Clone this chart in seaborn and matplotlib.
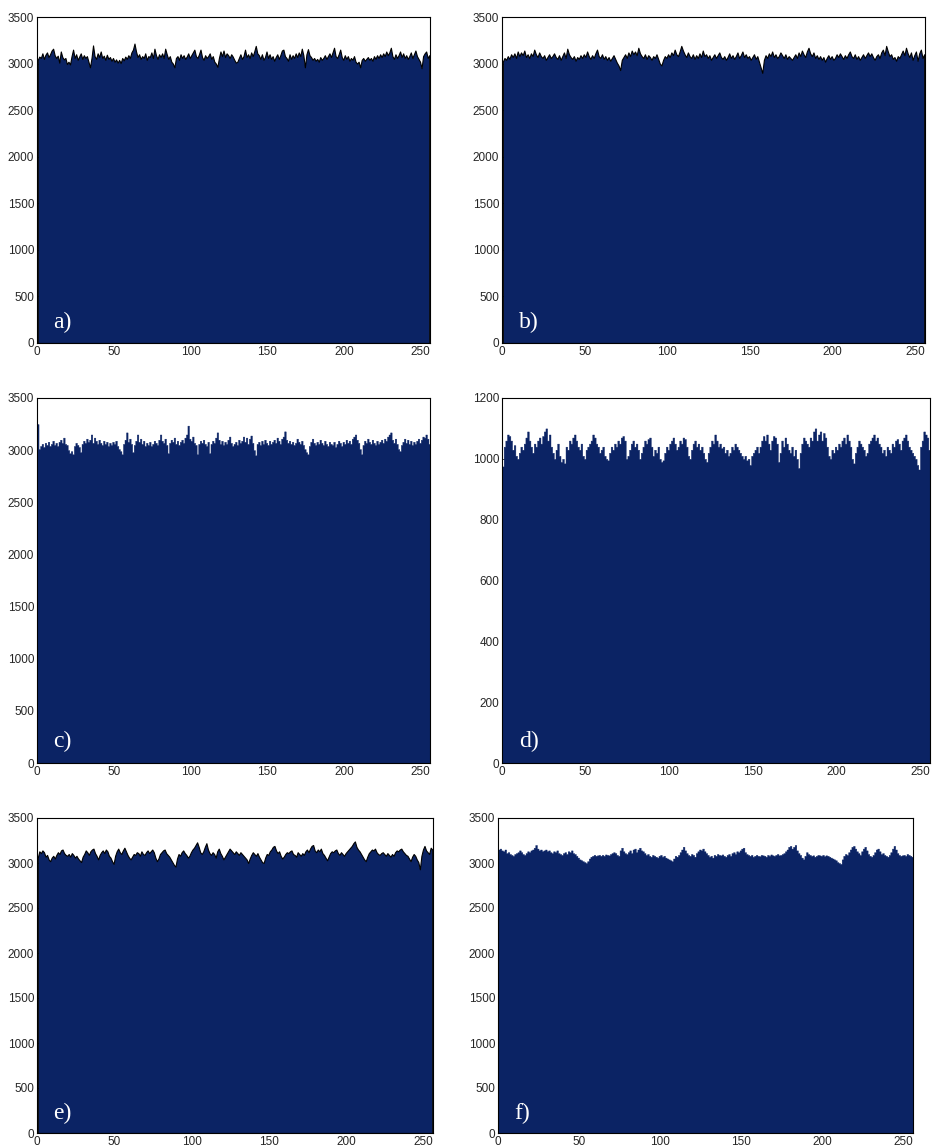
import numpy as np
import matplotlib
matplotlib.use("Agg")
import matplotlib.pyplot as plt
import seaborn as sns

# Grey-level histograms (256 bins) of six images
levels = np.arange(256)

hist_a = [
    3040, 3075, 3060, 3110, 3050, 3095, 3120, 3070, 3100, 3140, 3160, 3090, 3060, 3085, 3010, 3130,
    3070, 3045, 3060, 2995, 3020, 2990, 3080, 3150, 3060, 3100, 3040, 3075, 3110, 3050, 3090, 3060,
    3080, 3020, 2960, 3060, 3195, 3080, 3050, 3110, 3070, 3130, 3060, 3085, 3040, 3095, 3050, 3070,
    3030, 3060, 3020, 3045, 3010, 3040, 3005, 3060, 3035, 3075, 3050, 3090, 3060, 3120, 3150, 3215,
    3130, 3070, 3100, 3050, 3080, 3060, 3110, 3040, 3080, 3070, 3120, 3060, 3160, 3090, 3050, 3100,
    3070, 3110, 3060, 3160, 3100, 3050, 3080, 3020, 3000, 2960, 3060, 3080, 3040, 3100, 3060, 3090,
    3050, 3075, 3110, 3060, 3090, 3120, 3150, 3080, 3060, 3100, 3150, 3070, 3040, 3090, 3060, 3080,
    3110, 3050, 3080, 3020, 3000, 2965, 3060, 3130, 3080, 3140, 3070, 3110, 3090, 3060, 3100, 3075,
    3040, 3010, 3020, 3060, 3100, 3050, 3080, 3150, 3070, 3100, 3060, 3120, 3080, 3130, 3190, 3110,
    3090, 3050, 3100, 3040, 3070, 3130, 3060, 3100, 3050, 3080, 3030, 3070, 3100, 3050, 3090, 3140,
    3150, 3080, 3060, 3030, 3100, 3050, 3090, 3060, 3110, 3070, 3120, 3080, 3160, 3090, 2960, 3100,
    3155, 3090, 3070, 3040, 3060, 3030, 3050, 3020, 3070, 3040, 3060, 3090, 3050, 3080, 3110, 3070,
    3120, 3170, 3080, 3060, 3100, 3150, 3070, 3040, 3090, 3050, 3080, 3030, 3060, 3040, 3080, 3020,
    3000, 3020, 2960, 3040, 3060, 3030, 3050, 3070, 3040, 3060, 3030, 3080, 3050, 3090, 3060, 3100,
    3070, 3110, 3080, 3130, 3090, 3120, 3170, 3080, 3050, 3100, 3060, 3090, 3130, 3070, 3110, 3060,
    3090, 3050, 3080, 3120, 3060, 3100, 3140, 3080, 3050, 3020, 2950, 3080, 3110, 3130, 3060, 3090,
]

hist_b = [
    3020, 3060, 3040, 3080, 3050, 3100, 3070, 3110, 3060, 3130, 3080, 3120, 3090, 3140, 3070, 3100,
    3060, 3110, 3080, 3150, 3100, 3070, 3120, 3080, 3060, 3090, 3040, 3070, 3100, 3060, 3080, 3110,
    3070, 3050, 3090, 3040, 3080, 3120, 3060, 3160, 3100, 3070, 3050, 3080, 3030, 3070, 3050, 3090,
    3060, 3100, 3070, 3130, 3080, 3050, 3090, 3060, 3110, 3150, 3080, 3060, 3100, 3050, 3080, 3040,
    3070, 3030, 3060, 3090, 3050, 3010, 2980, 2930, 3040, 3070, 3100, 3060, 3120, 3080, 3140, 3100,
    3130, 3090, 3170, 3110, 3080, 3060, 3100, 3050, 3090, 3070, 3040, 3080, 3060, 3100, 3050, 3000,
    2980, 3040, 3080, 3060, 3100, 3070, 3120, 3090, 3150, 3100, 3080, 3130, 3190, 3140, 3100, 3070,
    3120, 3080, 3060, 3100, 3050, 3090, 3060, 3110, 3070, 3140, 3080, 3100, 3060, 3090, 3040, 3070,
    3100, 3060, 3090, 3120, 3070, 3050, 3080, 3040, 3070, 3110, 3060, 3090, 3050, 3080, 3120, 3060,
    3090, 3130, 3070, 3100, 3060, 3080, 3040, 3070, 3100, 3050, 3080, 3020, 2960, 2900, 3040, 3090,
    3060, 3110, 3080, 3130, 3070, 3100, 3060, 3080, 3120, 3090, 3060, 3100, 3050, 3080, 3060, 3040,
    3070, 3100, 3060, 3120, 3080, 3140, 3100, 3070, 3130, 3170, 3110, 3080, 3120, 3060, 3090, 3050,
    3080, 3040, 3070, 3020, 3060, 3090, 3050, 3080, 3040, 3060, 3100, 3070, 3110, 3080, 3050, 3090,
    3060, 3100, 3130, 3080, 3060, 3100, 3050, 3080, 3040, 3070, 3100, 3060, 3090, 3120, 3080, 3110,
    3070, 3040, 3080, 3100, 3060, 3120, 3150, 3090, 3190, 3130, 3080, 3100, 3050, 3070, 3030, 3080,
    3060, 3100, 3140, 3090, 3170, 3110, 3070, 3120, 3040, 3090, 3130, 3030, 3110, 3150, 3060, 3100,
]

hist_c = [
    3250, 3010, 3040, 3060, 3030, 3070, 3050, 3080, 3040, 3060, 3090, 3050, 3070, 3040, 3080, 3100,
    3070, 3120, 3060, 3050, 3000, 2970, 2990, 2960, 3040, 3070, 3050, 3030, 2980, 3060, 3090, 3070,
    3110, 3080, 3100, 3150, 3070, 3120, 3090, 3060, 3100, 3070, 3050, 3090, 3060, 3080, 3040, 3070,
    3050, 3080, 3060, 3090, 3040, 3010, 2990, 2960, 3060, 3100, 3170, 3080, 3110, 3060, 2980, 3050,
    3090, 3150, 3080, 3110, 3060, 3090, 3040, 3070, 3050, 3080, 3040, 3060, 3090, 3070, 3050, 3100,
    3150, 3090, 3070, 3110, 3050, 2970, 3070, 3100, 3080, 3120, 3060, 3090, 3050, 3080, 3100, 3070,
    3120, 3150, 3235, 3110, 3090, 3130, 3070, 3050, 2960, 3060, 3090, 3070, 3100, 3060, 3040, 3080,
    2970, 3060, 3090, 3070, 3120, 3170, 3100, 3060, 3090, 3050, 3080, 3060, 3100, 3130, 3070, 3040,
    3060, 3080, 3050, 3100, 3070, 3090, 3130, 3080, 3120, 3060, 3110, 3140, 3070, 3000, 2950, 3060,
    3080, 3050, 3090, 3060, 3100, 3070, 3050, 3090, 3060, 3080, 3100, 3070, 3120, 3090, 3060, 3110,
    3130, 3180, 3100, 3070, 3090, 3060, 3080, 3050, 3070, 3110, 3080, 3060, 3090, 3050, 3010, 2980,
    2960, 3040, 3080, 3110, 3070, 3050, 3080, 3060, 3100, 3070, 3050, 3090, 3060, 3040, 3080, 3060,
    3050, 3080, 3030, 3060, 3090, 3070, 3040, 3080, 3060, 3100, 3070, 3090, 3060, 3110, 3130, 3150,
    3100, 3070, 3010, 2960, 3050, 3090, 3070, 3110, 3080, 3060, 3100, 3070, 3050, 3090, 3060, 3080,
    3100, 3070, 3110, 3090, 3130, 3150, 3170, 3100, 3070, 3110, 3060, 3010, 2990, 3050, 3080, 3110,
    3070, 3100, 3060, 3090, 3050, 3080, 3060, 3090, 3110, 3070, 3100, 3130, 3120, 3150, 3110, 3060,
]

hist_d = [
    975, 1040, 1060, 1080, 1075, 1060, 1030, 1045, 1010, 1000, 1020, 1040, 1030, 1050, 1070, 1090,
    1060, 1040, 1020, 1050, 1040, 1060, 1070, 1050, 1075, 1090, 1100, 1060, 1080, 1040, 1020, 1000,
    1030, 1050, 1010, 990, 1000, 985, 1040, 1030, 1060, 1050, 1070, 1080, 1060, 1040, 1030, 1050,
    1010, 1000, 1030, 1040, 1050, 1060, 1080, 1070, 1050, 1040, 1020, 1030, 1040, 1010, 1000, 995,
    1020, 1040, 1030, 1050, 1040, 1060, 1050, 1070, 1075, 1060, 1000, 1010, 1030, 1050, 1060, 1040,
    1050, 1030, 1000, 1020, 1040, 1060, 1050, 1065, 1070, 1040, 1010, 1030, 1020, 1040, 1000, 990,
    995, 1020, 1040, 1030, 1050, 1060, 1070, 1050, 1030, 1040, 1060, 1050, 1070, 1065, 1040, 1010,
    1000, 1030, 1050, 1060, 1040, 1050, 1030, 1040, 1020, 1000, 990, 1020, 1040, 1060, 1050, 1080,
    1060, 1040, 1050, 1035, 1040, 1020, 1030, 1010, 1020, 1040, 1030, 1050, 1040, 1030, 1020, 1010,
    1000, 1010, 995, 1000, 980, 1010, 1020, 1030, 1040, 1020, 1040, 1060, 1075, 1060, 1080, 1050,
    1030, 1060, 1075, 1070, 1050, 990, 1020, 1060, 1040, 1070, 1050, 1030, 1020, 1040, 1010, 1030,
    1000, 970, 1020, 1050, 1070, 1060, 1050, 1040, 1070, 1060, 1090, 1100, 1060, 1080, 1090, 1060,
    1085, 1070, 1040, 1010, 1000, 1030, 1020, 1040, 1030, 1050, 1040, 1060, 1070, 1050, 1080, 1060,
    1040, 1000, 985, 1020, 1040, 1060, 1050, 1040, 1030, 1010, 1020, 1050, 1060, 1070, 1080, 1060,
    1070, 1050, 1040, 1020, 1030, 1010, 1040, 1030, 1020, 1050, 1040, 1060, 1065, 1050, 1030, 1060,
    1070, 1080, 1060, 1040, 1030, 1020, 1010, 1000, 980, 965, 1040, 1060, 1090, 1080, 1070, 1030,
]

hist_e = [
    3060, 3130, 3110, 3140, 3120, 3070, 3090, 3040, 3020, 3060, 3080, 3050, 3090, 3120, 3100, 3140,
    3150, 3110, 3090, 3080, 3100, 3070, 3110, 3090, 3060, 3080, 3050, 3030, 3010, 3070, 3100, 3140,
    3120, 3090, 3130, 3150, 3160, 3110, 3080, 3040, 3090, 3120, 3140, 3110, 3150, 3130, 3080, 3060,
    3020, 2990, 3080, 3130, 3160, 3120, 3100, 3140, 3170, 3130, 3090, 3060, 3040, 3070, 3100, 3090,
    3120, 3110, 3080, 3130, 3100, 3090, 3120, 3140, 3110, 3130, 3150, 3120, 3060, 3020, 3050, 3100,
    3120, 3140, 3150, 3110, 3090, 3070, 3040, 3010, 2980, 2960, 3050, 3100, 3080, 3120, 3140, 3110,
    3090, 3060, 3080, 3120, 3150, 3170, 3200, 3230, 3180, 3120, 3100, 3130, 3180, 3220, 3150, 3110,
    3090, 3120, 3100, 3060, 3130, 3160, 3110, 3080, 3040, 3070, 3100, 3130, 3160, 3140, 3120, 3100,
    3130, 3110, 3090, 3120, 3100, 3080, 3060, 3040, 3000, 3050, 3090, 3120, 3100, 3080, 3110, 3070,
    3040, 3010, 3000, 3060, 3100, 3090, 3130, 3150, 3180, 3190, 3140, 3110, 3130, 3080, 3050, 3070,
    3100, 3120, 3110, 3130, 3140, 3100, 3090, 3070, 3120, 3100, 3080, 3110, 3090, 3130, 3150, 3120,
    3160, 3190, 3200, 3140, 3120, 3150, 3130, 3160, 3110, 3090, 3060, 3030, 3070, 3110, 3130, 3120,
    3140, 3150, 3110, 3090, 3120, 3100, 3080, 3110, 3130, 3150, 3170, 3190, 3220, 3240, 3180, 3150,
    3130, 3100, 3070, 3040, 3020, 3070, 3110, 3130, 3150, 3140, 3160, 3120, 3100, 3090, 3110, 3120,
    3100, 3080, 3110, 3090, 3070, 3100, 3080, 3120, 3140, 3130, 3150, 3160, 3130, 3110, 3090, 3080,
    3050, 3020, 3070, 3100, 3080, 3040, 3010, 2930, 3080, 3150, 3190, 3140, 3120, 3100, 3170, 3150,
]

hist_f = [
    3150, 3160, 3140, 3130, 3150, 3110, 3120, 3100, 3090, 3080, 3100, 3110, 3120, 3140, 3120, 3100,
    3090, 3110, 3130, 3120, 3140, 3150, 3170, 3200, 3160, 3140, 3150, 3130, 3140, 3150, 3130, 3140,
    3120, 3110, 3130, 3120, 3140, 3110, 3100, 3090, 3110, 3120, 3100, 3130, 3120, 3140, 3110, 3100,
    3080, 3060, 3040, 3030, 3020, 3010, 3000, 3020, 3050, 3070, 3080, 3090, 3080, 3085, 3090, 3080,
    3090, 3080, 3095, 3090, 3085, 3100, 3110, 3120, 3110, 3090, 3080, 3140, 3170, 3130, 3110, 3100,
    3120, 3140, 3110, 3150, 3160, 3120, 3150, 3170, 3140, 3130, 3110, 3090, 3100, 3080, 3070, 3090,
    3080, 3070, 3060, 3080, 3090, 3070, 3080, 3060, 3050, 3040, 3030, 3020, 3050, 3080, 3070, 3090,
    3120, 3150, 3180, 3140, 3110, 3090, 3080, 3100, 3090, 3070, 3110, 3130, 3150, 3140, 3160, 3130,
    3110, 3090, 3070, 3080, 3060, 3090, 3080, 3100, 3090, 3085, 3095, 3080, 3070, 3090, 3100, 3080,
    3110, 3120, 3100, 3130, 3120, 3140, 3160, 3170, 3120, 3100, 3090, 3080, 3090, 3070, 3080, 3090,
    3080, 3075, 3090, 3085, 3080, 3070, 3090, 3080, 3095, 3085, 3080, 3090, 3100, 3085, 3090, 3100,
    3110, 3130, 3150, 3180, 3190, 3160, 3180, 3200, 3140, 3110, 3090, 3060, 3040, 3080, 3120, 3100,
    3090, 3080, 3085, 3070, 3080, 3090, 3085, 3080, 3090, 3075, 3085, 3080, 3070, 3060, 3050, 3040,
    3030, 3010, 3000, 2990, 3040, 3080, 3100, 3090, 3120, 3150, 3180, 3190, 3160, 3130, 3110, 3090,
    3130, 3160, 3180, 3140, 3100, 3080, 3070, 3090, 3120, 3150, 3160, 3130, 3100, 3110, 3090, 3080,
    3070, 3090, 3120, 3160, 3190, 3150, 3110, 3090, 3080, 3085, 3090, 3080, 3100, 3090, 3080, 3070,
]

panel_labels = ["a)", "b)", "c)", "d)", "e)", "f)"]
y_max = [3500, 3500, 3500, 1200, 3500, 3500]
y_step = [500, 500, 500, 200, 500, 500]
x_ticks = [0, 50, 100, 150, 200, 250]

NAVY = "#0b2364"

sns.set_style("ticks")
plt.rcParams["font.family"] = ["Liberation Sans", "DejaVu Sans"]

fig = plt.figure(figsize=(9.36, 11.47), dpi=100)
W, H = 936.0, 1147.0


def box(left, top, right, bottom):
    return [left / W, 1 - bottom / H, (right - left) / W, (bottom - top) / H]


frames = [
    box(37, 17, 430, 343),
    box(502, 17, 925, 343),
    box(37, 398, 430, 763),
    box(502, 398, 930, 763),
    box(37, 818, 433, 1133),
    box(498, 818, 913, 1133),
]

series = [hist_a, hist_b, hist_c, hist_d, hist_e, hist_f]
outlined = [True, True, False, False, True, False]

for frame, counts, label, ymax, ystep, edge in zip(
        frames, series, panel_labels, y_max, y_step, outlined):
    ax = fig.add_axes(frame)
    sns.histplot(
        x=levels, weights=counts, binwidth=1, binrange=(0, 256),
        element="poly" if edge else "step", fill=True, color=NAVY, alpha=1,
        edgecolor="black" if edge else NAVY, linewidth=0.8 if edge else 0.3,
        ax=ax,
    )
    ax.set_xlim(0, 256)
    ax.set_ylim(0, ymax)
    ax.set_xticks(x_ticks)
    ax.set_yticks(np.arange(0, ymax + 1, ystep))
    ax.set_xlabel("")
    ax.set_ylabel("")
    ax.tick_params(direction="in", length=3, width=0.6, labelsize=8.5,
                   pad=2, top=False, right=False)
    for s in ax.spines.values():
        s.set_visible(True)
        s.set_linewidth(0.8)
        s.set_color("black")
    ax.text(0.04, 0.03, label, transform=ax.transAxes, ha="left", va="bottom",
            fontsize=17, color="white", family=["Liberation Serif", "DejaVu Serif"])

fig.savefig("out.png", dpi=100, facecolor="white")
